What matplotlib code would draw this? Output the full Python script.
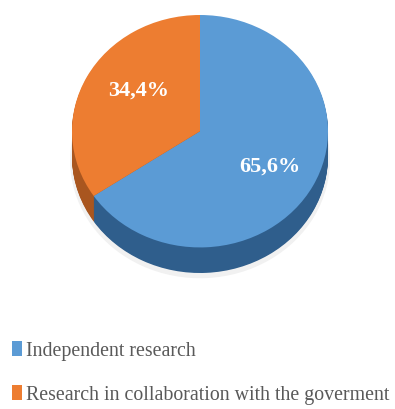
import numpy as np
import matplotlib.pyplot as plt
from matplotlib.patches import Patch

labels = ['Independent research', 'Research in collaboration with the goverment']
values = [65.6, 34.4]
top_colors = ['#5b9bd5', '#ed7d31']
side_colors = ['#2f5e8c', '#a9561f']

W, H = 395, 410
fig = plt.figure(figsize=(W / 100, H / 100), dpi=100)

# pie area in pixels (left, top, right, bottom)
px_l, px_t, px_r, px_b = 72, 16, 328, 274
ax = fig.add_axes([px_l / W, 1 - px_b / H, (px_r - px_l) / W, (px_b - px_t) / H])

depth = 0.22
# faint shadow under the pie
ax.pie(values, colors=['#f1f1f1', '#f1f1f1'], startangle=90, counterclock=False,
       center=(0, -depth - 0.03), radius=1.015, wedgeprops=dict(linewidth=0))
# side of the 3d pie
for off in np.linspace(depth, 0.01, 30):
    ax.pie(values, colors=side_colors, startangle=90, counterclock=False,
           center=(0, -off), wedgeprops=dict(linewidth=0))


def fmt(p):
    return ('%.1f%%' % p).replace('.', ',')


wedges, texts, autotexts = ax.pie(values, colors=top_colors, startangle=90,
                                  counterclock=False, autopct=fmt, pctdistance=0.62,
                                  wedgeprops=dict(linewidth=0))
for t in autotexts:
    t.set_color('white')
    t.set_fontfamily('Liberation Serif')
    t.set_fontweight('bold')
    t.set_fontsize(16)
# small nudge of the orange label, as in the original
x, y = autotexts[1].get_position()
autotexts[1].set_position((x + 0.07, y + 0.07))

ax.set_aspect('auto')
ax.set_xlim(-1, 1)
ax.set_ylim(-1 - depth, 1)
ax.axis('off')

handles = [Patch(facecolor=c, edgecolor='none') for c in top_colors]
fig.legend(handles, labels, loc='upper left', bbox_to_anchor=(12 / W, 1 - 342 / H),
           frameon=False, prop={'family': 'Liberation Serif', 'size': 14.3},
           labelcolor='#595959', handlelength=0.5, handleheight=0.75,
           handletextpad=0.2, labelspacing=1.25, borderaxespad=0, borderpad=0)

fig.savefig('out.png', dpi=100)
